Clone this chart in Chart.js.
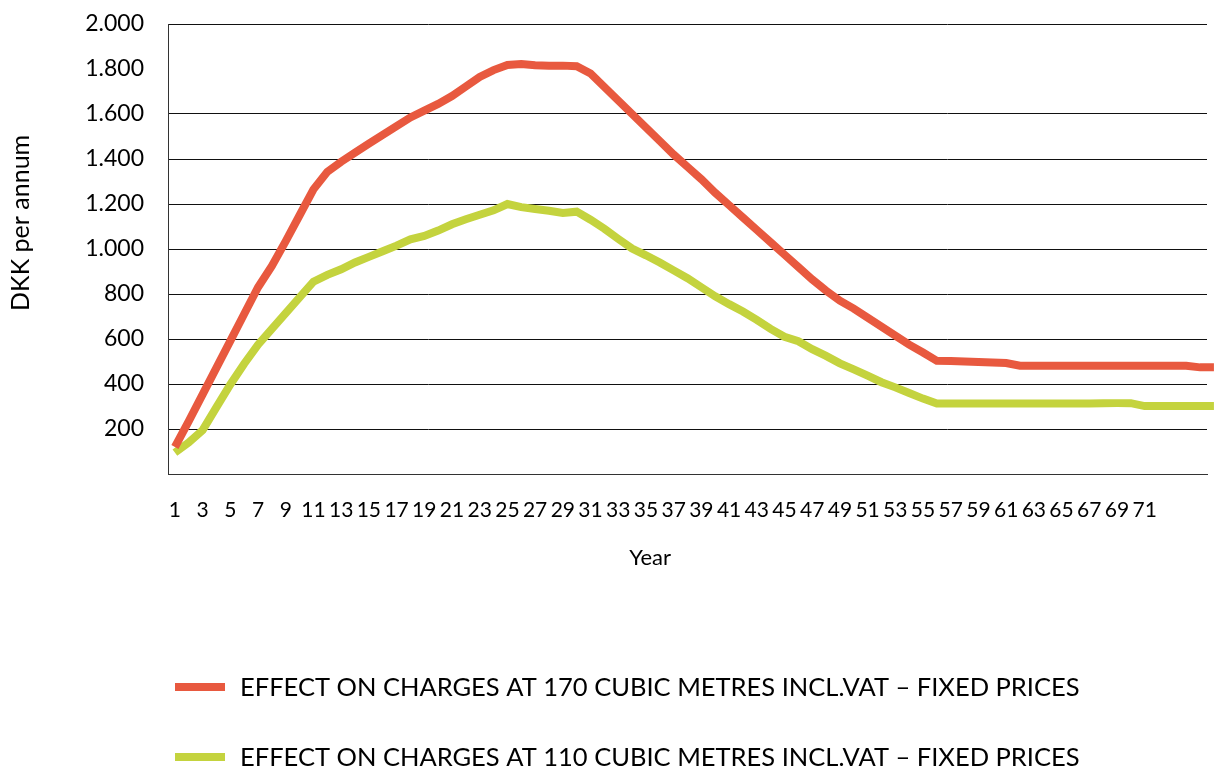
<!DOCTYPE html>
<html>
<head>
<meta charset="utf-8">
<script src="https://cdn.jsdelivr.net/npm/chart.js@4"></script>
<style>
  html, body { margin: 0; padding: 0; background: #fff; }
  #wrap { width: 1225px; height: 771px; position: relative; }
</style>
</head>
<body>
<div id="wrap"><canvas id="c" width="1225" height="771"></canvas></div>
<script>
// ---- data ----
const years = [1,2,3,4,5,6,7,8,9,10,11,12,13,14,15,16,17,18,19,20,21,22,23,24,25,26,27,28,29,30,
  31,32,33,34,35,36,37,38,39,40,41,42,43,44,45,46,47,48,49,50,51,52,53,54,55,56,57,58,59,60,
  61,62,63,64,65,66,67,68,69,70,71,72,73,74,75,76,77];
const xTickLabels = [1,3,5,7,9,11,13,15,17,19,21,23,25,27,29,31,33,35,37,39,41,43,45,47,49,51,53,55,57,59,61,63,65,67,69,71];
const yTickValues = [0,200,400,600,800,1000,1200,1400,1600,1800,2000];
const series170Label = 'EFFECT ON CHARGES AT 170 CUBIC METRES INCL.VAT – FIXED PRICES';
const series110Label = 'EFFECT ON CHARGES AT 110 CUBIC METRES INCL.VAT – FIXED PRICES';
const series170 = [120,235,354,473,592,711,830,925,1035,1150,1265,1343,1388,1428,1468,1507,1546,1585,1615,1645,
  1680,1722,1765,1795,1818,1822,1817,1815,1815,1812,1780,1720,1660,1600,1540,1480,1420,1365,1310,1250,
  1195,1140,1085,1030,975,920,865,815,770,735,695,655,615,575,540,503,502,500,498,496,
  493,481,481,481,481,481,481,481,481,481,481,481,481,481,474,474,474];
const series110 = [95,140,195,297,398,490,575,645,715,785,855,885,910,940,965,990,1015,1043,1058,1082,
  1110,1132,1152,1172,1200,1186,1178,1170,1160,1166,1130,1090,1045,1002,972,940,905,870,830,790,
  755,722,685,645,610,590,555,525,492,465,437,408,385,360,335,313,313,313,313,313,
  313,313,313,313,313,313,313,314,315,315,302,302,302,302,302,302];
const xAxisTitle = 'Year';
const yAxisTitle = 'DKK per annum';

// ---- helpers ----
function fmtDK(v) {
  if (v === 0) return '';
  if (v >= 1000) {
    const th = Math.floor(v / 1000);
    const rest = String(v % 1000).padStart(3, '0');
    return th + '.' + rest;
  }
  return String(v);
}
const FONT = 'Lato';

// axis titles drawn relative to the chart area
const axisTitles = {
  id: 'axisTitles',
  afterDraw(chart) {
    const ctx = chart.ctx, area = chart.chartArea, xs = chart.scales.x;
    ctx.save();
    ctx.fillStyle = '#000';
    ctx.font = '22px ' + FONT;
    ctx.textAlign = 'center';
    ctx.textBaseline = 'middle';
    ctx.fillText(xAxisTitle, xs.getPixelForValue(35.3), area.bottom + 84);
    ctx.translate(21, area.top + area.height * 0.442);
    ctx.rotate(-Math.PI / 2);
    ctx.font = '25px ' + FONT;
    ctx.fillText(yAxisTitle, 0, 0);
    ctx.restore();
  }
};

// stacked legend (one entry per row) built from the datasets
const stackedLegend = {
  id: 'stackedLegend',
  afterDraw(chart) {
    const ctx = chart.ctx, area = chart.chartArea;
    ctx.save();
    ctx.font = '25.5px ' + FONT;
    ctx.textAlign = 'left';
    ctx.textBaseline = 'middle';
    chart.data.datasets.forEach((ds, i) => {
      const y = area.bottom + 213 + i * 70;
      const x0 = area.left + 7;
      ctx.fillStyle = ds.borderColor;
      ctx.fillRect(x0, y - 4, 50, 8);
      ctx.fillStyle = '#000';
      ctx.fillText(ds.label, x0 + 65, y + 1);
    });
    ctx.restore();
  }
};

const red = '#E8593F';
const green = '#C4D33E';

new Chart(document.getElementById('c'), {
  type: 'line',
  data: {
    datasets: [
      { label: series170Label, data: series170.map((v, i) => ({ x: years[i], y: v })),
        borderColor: red, backgroundColor: red, borderWidth: 8, pointRadius: 0, tension: 0, clip: false },
      { label: series110Label, data: series110.map((v, i) => ({ x: years[i], y: v })),
        borderColor: green, backgroundColor: green, borderWidth: 8, pointRadius: 0, tension: 0, clip: false }
    ]
  },
  options: {
    responsive: false,
    animation: false,
    events: [],
    layout: { padding: { left: 0, right: 18, top: 24, bottom: 143 } },
    plugins: {
      tooltip: { enabled: false },
      legend: { display: false }
    },
    scales: {
      x: {
        type: 'linear',
        min: 0.5,
        max: 75.5,
        afterBuildTicks(scale) { scale.ticks = xTickLabels.map(v => ({ value: v })); },
        afterFit(scale) { scale.height = 154; },
        ticks: {
          autoSkip: false, maxRotation: 0, minRotation: 0,
          font: { family: FONT, size: 21 }, color: '#000', padding: 24,
          callback: (v) => String(v)
        },
        grid: { display: false, drawTicks: false },
        border: { display: true, color: '#333', width: 1 }
      },
      y: {
        min: 0,
        max: 2000,
        afterBuildTicks(scale) { scale.ticks = yTickValues.map(v => ({ value: v })); },
        afterFit(scale) { scale.width = 168; scale.paddingTop = 14; scale.paddingBottom = 14; },
        ticks: {
          font: { family: FONT, size: 23 }, color: '#000', padding: 24,
          callback: (v) => fmtDK(v)
        },
        grid: {
          drawTicks: false,
          color: (c) => (c.tick && c.tick.value === 1800) ? 'rgba(0,0,0,0)' : '#111',
          lineWidth: 1
        },
        border: { display: true, color: '#333', width: 1 }
      }
    }
  },
  plugins: [axisTitles, stackedLegend]
});
</script>
</body>
</html>
